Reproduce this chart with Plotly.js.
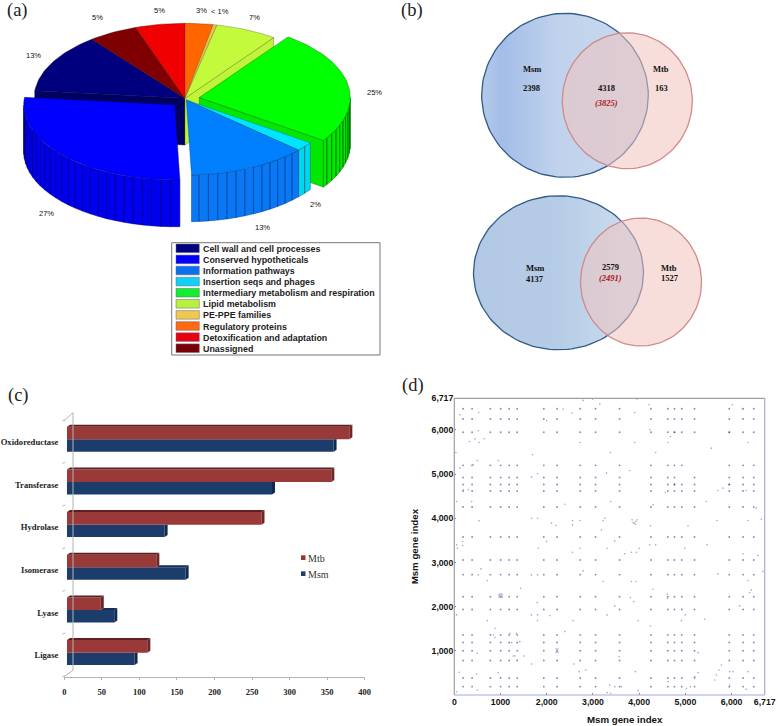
<!DOCTYPE html>
<html><head><meta charset="utf-8">
<script src="https://cdn.plot.ly/plotly-3.0.1.min.js"></script>
<style>html,body{margin:0;padding:0;background:#fff}#c{width:778px;height:726px}</style>
</head><body><div id="c"></div>
<script>
// ---------- data ----------
const pieNames = ["Regulatory proteins","PE-PPE families","Lipid metabolism","Intermediary metabolism and respiration","Insertion seqs and phages","Information pathways","Conserved hypotheticals","Cell wall and cell processes","Unassigned","Detoxification and adaptation"];
const pieShares = [3,0.4,6.6,24.7,2,12.8,27.2,12.8,5.3,5.3];
const pieLabels = ["3%","< 1%","7%","25%","2%","13%","27%","13%","5%","5%"];
const legendOrder = ["Cell wall and cell processes","Conserved hypotheticals","Information pathways","Insertion seqs and phages","Intermediary metabolism and respiration","Lipid metabolism","PE-PPE families","Regulatory proteins","Detoxification and adaptation","Unassigned"];

const vennTop = {msm:"2398", both:"4318", bothParen:"(3825)", mtb:"163"};
const vennBottom = {msm:"4137", both:"2579", bothParen:"(2491)", mtb:"1527"};

const enzymeClasses = ["Oxidoreductase","Transferase","Hydrolase","Isomerase","Lyase","Ligase"];
const mtbCounts = [376,352,259,119,45,107];
const msmCounts = [355,273,130,158,63,90];
const barTicks = [0,50,100,150,200,250,300,350,400];

const hubGenes = [189,385,780,1003,1187,1361,1937,2225,2725,3057,3577,4255,4620,4764,4923,5199,5950,6250,6480];
const strongGenes = [4764,5950];
const absentCells = ["5199,5199","4923,4923"];
const looseX = [2788,2990,3149,3955,4215,3905,6016,6232,2550,2356,122,526,1996,4229,4676,4626,5562,2716,3905,6355,324,447,533,648,519,1693,3379,4359,36,497,951,411,122,3797,3293,1672,1801,5706,5814,6319,4568,195,303,50,375,2392,3386,4301,5454,6535,1672,1801,2104,2198,2558,2558,2716,533,3221,3185,3257,3847,3890,3926,3955,3869,3919,4244,5058,5685,6355,6643,50,180,180,1996,3473,4229,4359,5469,65,1816,2716,3307,4986,6571,2558,3689,3833,3941,3999,576,2788,6247,6679,519,713,3221,3833,3927,6355,1672,1801,5706,6427,6391,1434,4301,973,1023,1009,1009,3811,4611,4611,3883,1794,3473,6175,50,1672,1801,1801,2068,2572,713,3307,3977,4914,5000,5418,4244,2392,879,879,843,1203,1347,1419,1239,1275,1311,1506,5274,497,3566,1672,2587,5778,5728,5670,5634,5958,6031,6355,2846,2702,108,483,951,3920,5274,5202,4626,5108,5022,6319,5958,3365,3473,3617,3307,3386,3977,497,50,2205,2245,2205,2245];
const looseY = [6669,6699,6586,6699,6571,6397,6571,6473,6382,6473,6344,6397,6216,6005,5853,5717,5589,5717,5717,5717,5740,5793,5717,5800,5982,5438,5491,5491,5491,5310,5310,5211,5136,5083,5023,4932,5008,4630,4683,4630,4585,4645,4645,4381,4381,4320,4381,4305,4381,4230,4003,4003,3890,3837,3950,3852,3950,3943,3950,3739,4003,3965,3890,3928,3965,3905,3867,3829,3829,3950,3950,3980,3399,3474,3384,3474,3489,3399,3399,3399,3323,3323,3323,3323,3323,3157,3233,3195,3233,3233,3323,2855,2810,3195,2795,2719,2591,2568,2568,2568,2591,2719,2719,2742,2379,2319,2417,2394,2251,2251,2288,2205,2205,2190,2288,2115,2092,2017,2017,1813,1813,1813,1684,1798,1684,1684,1813,1684,1684,1813,1714,1563,1435,1510,1299,1360,1397,1397,1208,1186,884,884,884,959,944,869,702,702,680,566,453,340,529,529,529,566,529,514,476,506,529,506,415,302,189,151,128,227,227,189,189,53,38,98,113,75,1040,970,970,1040];
const looseX2 = [973,1035,973,1035];
const looseY2 = [2280,2215,2215,2280];
const dotTicksX = [0,1000,2000,3000,4000,5000,6000,6717];
const dotTickTextX = ["0","1000","2,000","3,000","4,000","5,000","6,000","6,717"];
const dotTicksY = [1000,2000,3000,4000,5000,6000,6717];
const dotTickTextY = ["1,000","2,000","3,000","4,000","5,000","6,000","6,717"];

// ---------- styles ----------
const W=778,H=726;
const SERIF='"Liberation Serif","Times New Roman",serif', SANS='"Liberation Sans",Arial,sans-serif';
const topCol=["#ff6600","#e8c44a","#c4fa3c","#00ff00","#00e5ff","#007fff","#0000ff","#00007f","#7f0000","#f00000"];
const sideCol=["#e05a00","#d0b040","#c0f438","#00e800","#00d8f0","#0a78f5","#0000ee","#000060","#600000","#d00000"];
const lineCol=["#803000","#806020","#606a20","#006000","#006070","#004090","#000080","#000040","#400000","#700000"];
const explodeX=[0,0,0,14.3,1.3,1.3,-10.3,0,0,0];
const explodeY=[0,0,0,-0.7,1.7,1.7,6.7,0,0,0];
const legendSwatch={"Cell wall and cell processes":"#00007f","Conserved hypotheticals":"#0000ff","Information pathways":"#0a70f0","Insertion seqs and phages":"#10d0f8","Intermediary metabolism and respiration":"#10f030","Lipid metabolism":"#b8f040","PE-PPE families":"#eec850","Regulatory proteins":"#ff6a10","Detoxification and adaptation":"#e80010","Unassigned":"#7a0008"};

const traces=[], shapes=[], annos=[];
function txt(x,y,text,size,family,o){ annos.push(Object.assign({xref:'x',yref:'y',x,y,text,showarrow:false,xanchor:'center',yanchor:'middle',borderpad:0,
  font:{size,family,color:(o&&o.color)||'#111'}},o&&o.anchor?{xanchor:o.anchor}:{})); }
function poly(xs,ys,fill,line,lw,axes,extra){ traces.push(Object.assign({type:'scatter',mode:lw?'lines':'none',x:xs,y:ys,fill:'toself',fillcolor:fill,
  line:{color:line||fill,width:lw||0},hoverinfo:'skip',showlegend:false,xaxis:axes?axes[0]:'x',yaxis:axes?axes[1]:'y'},extra||{})); }

// ---------- (a) pie, drawn from the shares ----------
const cx=185,cy=98.3,rx=151,ry=75,ph=46.7,rad=Math.PI/180;
const total=pieShares.reduce((a,b)=>a+b,0);
const starts=[];let acc=0;pieShares.forEach(s=>{starts.push(acc);acc+=s/total*360;});
const ends=starts.map((s,i)=>s+pieShares[i]/total*360);
const px=(i,t)=>cx+explodeX[i]+rx*Math.sin(t*rad), py=(i,t)=>cy+explodeY[i]-ry*Math.cos(t*rad);
function radial(i,t){const ax=cx+explodeX[i],ay=cy+explodeY[i];
  poly([ax,px(i,t),px(i,t),ax,ax],[ay,py(i,t),py(i,t)+ph,ay+ph,ay],sideCol[i],lineCol[i],0.4);}
function sideFacets(i){const a=Math.max(starts[i],90),b=Math.min(ends[i],270);if(b<=a)return;
  const xs=[],ys=[];for(let t=a;t<b-0.01;t+=3.6){const e=Math.min(t+3.6,b);
    xs.push(px(i,t),px(i,e),px(i,e),px(i,t),px(i,t),null);ys.push(py(i,t),py(i,e),py(i,e)+ph,py(i,t)+ph,py(i,t),null);}
  poly(xs,ys,sideCol[i],lineCol[i],0.5);}
function topFace(i){const xs=[cx+explodeX[i]],ys=[cy+explodeY[i]];
  for(let t=starts[i];t<ends[i];t+=1.5){xs.push(px(i,t));ys.push(py(i,t));}
  xs.push(px(i,ends[i]),xs[0]);ys.push(py(i,ends[i]),ys[0]);poly(xs,ys,topCol[i],lineCol[i],0.4);}
radial(7,ends[6]);
[7,8,9,0,1].forEach(topFace);
radial(2,ends[2]);topFace(2);
sideFacets(3);radial(3,ends[3]);topFace(3);
sideFacets(4);topFace(4);sideFacets(5);topFace(5);sideFacets(6);topFace(6);

const pieLabelX=[201,220,254,374,315,262,46,33,97,159], pieLabelY=[10,11,17.5,92,204,227,213,55,17,10];
pieLabels.forEach((l,i)=>txt(pieLabelX[i],pieLabelY[i],l,7.5,SANS,{color:'#111'}));

// legend of (a)
shapes.push({type:'rect',xref:'x',yref:'y',x0:171.7,x1:380,y0:242.7,y1:355,line:{color:'#777',width:1},fillcolor:'#fff',layer:'below'});
legendOrder.forEach((n,i)=>{const y=248.3+11.1*i;
  shapes.push({type:'rect',xref:'x',yref:'y',x0:176,x1:199.3,y0:y-4.3,y1:y+4.3,line:{color:'#667',width:0.5},fillcolor:legendSwatch[n]});
  txt(201.7,y+0.5,'<b>'+n+'</b>',8.9,SANS,{anchor:'left',color:'#222'});});

// ---------- (b) venn ----------
function circle(c0,c1,r0,r1){const xs=[],ys=[];for(let t=0;t<=360;t+=3){xs.push(c0+r0*Math.cos(t*rad));ys.push(c1+r1*Math.sin(t*rad));}return [xs,ys];}
function venn(blue,pink,scale){
  let p=circle(...blue);
  poly(p[0],p[1],'#c8d6ec','#2f5a8a',1.3,null,{fillgradient:{type:'horizontal',colorscale:scale}});
  p=circle(...pink);
  poly(p[0],p[1],'rgba(240,195,190,0.55)','#d08a8a',1.3);
}
venn([565,95.3,83.3,82],[627.3,100.8,65,68],[[0,'#b6cbea'],[0.12,'#a3bde8'],[0.45,'#c0d2ec'],[1,'#cbd9ee']]);
venn([558.5,272.8,85,77],[641,282,60.5,64],[[0,'#b2c8e4'],[0.5,'#b6cce6'],[0.9,'#cadcee'],[1,'#cadcee']]);
const RED='#a81818', VF=8.5;
function B(s){return '<b>'+s+'</b>';}
txt(532,68.7,B('Msm'),VF,SERIF);txt(531.5,88,B(vennTop.msm),VF,SERIF);
txt(606.7,87.7,B(vennTop.both),VF,SERIF);txt(606.7,102.7,'<b><i>'+vennTop.bothParen+'</i></b>',VF,SERIF,{color:RED});
txt(661,68.7,B('Mtb'),VF,SERIF);txt(661.7,88.3,B(vennTop.mtb),VF,SERIF);
txt(534.7,268.3,B('Msm'),VF,SERIF);txt(534.7,278.7,B(vennBottom.msm),VF,SERIF);
txt(610.3,267.3,B(vennBottom.both),VF,SERIF);txt(610.3,278.3,'<b><i>'+vennBottom.bothParen+'</i></b>',VF,SERIF,{color:RED});
txt(669.3,267.7,B('Mtb'),VF,SERIF);txt(670.3,278.3,B(vennBottom.mtb),VF,SERIF);

// ---------- (c) bars ----------
const n=enzymeClasses.length, barY=enzymeClasses.map((c,i)=>n-1-i);
const BASE=3.55, W1=0.295, OFF=0.063, DX=4, DY=0.047;
const MTB='#9a3a38', MSM='#1c3d6b';
traces.push({type:'bar',orientation:'h',name:'Msm',x:msmCounts,y:barY,base:BASE,offset:OFF-0.29,width:0.29,marker:{color:MSM,line:{width:0}},xaxis:'x2',yaxis:'y2',hoverinfo:'skip',showlegend:false});
traces.push({type:'bar',orientation:'h',name:'Mtb',x:mtbCounts,y:barY,base:BASE,offset:OFF,width:W1,marker:{color:MTB,line:{width:0}},xaxis:'x2',yaxis:'y2',hoverinfo:'skip',showlegend:false});
const AX2=['x2','y2'];
enzymeClasses.forEach((c,i)=>{const y=barY[i],mb=msmCounts[i]+BASE,mt=mtbCounts[i]+BASE;
  const lo=y+OFF-0.29, mid=y+OFF, hi=y+OFF+W1;
  if(mb>mt){poly([mt,mb,mb+DX,mt+DX,mt],[mid,mid,mid+DY,mid+DY,mid],'#14305a',null,0,AX2);
    poly([mb,mb+DX,mb+DX,mb,mb],[lo,lo+DY,mid+DY,mid,lo],'#10294d',null,0,AX2);}
  else poly([mb,mb+DX,mb+DX,mb,mb],[lo,lo+DY,mid,mid,lo],'#10294d',null,0,AX2);
  poly([BASE,mt,mt+DX,BASE+DX,BASE],[hi,hi,hi+DY,hi+DY,hi],'#5e1f1f',null,0,AX2);
  poly([mt,mt+DX,mt+DX,mt,mt],[mid,mid+DY,hi+DY,hi,mid],'#6e2525',null,0,AX2);
});
const gray='#b4b4b4';
[[73,412.7,73,670],[64.3,676.7,73,670],[64.3,420.7,73,412.7]].forEach(l=>shapes.push({type:'line',xref:'x',yref:'y',x0:l[0],y0:l[1],x1:l[2],y1:l[3],line:{color:gray,width:1}}));
for(let i=0;i<=n;i++){const y=420.7+i*42.67;shapes.push({type:'line',xref:'x',yref:'y',x0:62.5,y0:y,x1:65,y1:y-1,line:{color:gray,width:1}});}
shapes.push({type:'rect',xref:'x',yref:'y',x0:301,x1:305.5,y0:555.3,y1:560,fillcolor:'#953735',line:{width:0}});
shapes.push({type:'rect',xref:'x',yref:'y',x0:301,x1:305.5,y0:571.3,y1:576,fillcolor:'#1f3f70',line:{width:0}});
txt(307,558,'Mtb',10,SERIF,{anchor:'left',color:'#333'});txt(307,574,'Msm',10,SERIF,{anchor:'left',color:'#333'});

// ---------- (d) dot matrix ----------
const fx=[],fy=[],sx=[],sy=[];
hubGenes.forEach(a=>hubGenes.forEach(b=>{
  if(absentCells.includes(a+','+b))return;
  if(strongGenes.includes(a)&&strongGenes.includes(b)||(strongGenes.includes(a)&&b===4764)){sx.push(a);sy.push(b);} else {fx.push(a);fy.push(b);}
}));
const AX3={xaxis:'x3',yaxis:'y3',type:'scatter',mode:'markers',hoverinfo:'skip',showlegend:false};
traces.push(Object.assign({},AX3,{x:fx,y:fy,marker:{size:1.9,color:'#8a8db8',line:{width:0}}}));
traces.push(Object.assign({},AX3,{x:sx,y:sy,marker:{size:2,color:'#50547f',line:{width:0}}}));
traces.push(Object.assign({},AX3,{x:looseX.concat(looseX2),y:looseY.concat(looseY2),marker:{size:1.6,color:'#a0a4d0',line:{width:0}}}));
const D=[454.3,764.7,398.3,695];
[[D[0],D[2],D[0],D[3],'#a0a0a0'],[D[0],D[2],D[1],D[2],'#a0a0a0'],[D[1],D[2],D[1],D[3],'#a8a8d8'],[D[0],D[3],D[1],D[3],'#a8a8e0']].forEach(l=>
  shapes.push({type:'line',xref:'x',yref:'y',x0:l[0],y0:l[1],x1:l[2],y1:l[3],line:{color:l[4],width:1.2}}));
txt(625,719,'<b>Msm gene index</b>',9.7,SANS);

// panel letters
txt(17.5,10.5,'(a)',18.5,SERIF,{color:'#222'});txt(411.5,10.5,'(b)',18.5,SERIF,{color:'#222'});
txt(18.5,395,'(c)',18.5,SERIF,{color:'#222'});txt(412.5,385,'(d)',18.5,SERIF,{color:'#222'});

const hidden={visible:false,fixedrange:true};
const dom=(a,b)=>[a/W,b/W], domY=(top,bot)=>[(H-bot)/H,(H-top)/H];
const layout={width:W,height:H,margin:{l:0,r:0,t:0,b:0},paper_bgcolor:'#fff',plot_bgcolor:'rgba(0,0,0,0)',showlegend:false,barmode:'overlay',
  xaxis:Object.assign({domain:[0,1],range:[0,W]},hidden),
  yaxis:Object.assign({domain:[0,1],range:[H,0]},hidden),
  xaxis2:{domain:dom(64.3,364.7),range:[0,400],anchor:'y2',tickvals:barTicks,showgrid:false,zeroline:false,showline:true,linecolor:gray,linewidth:1,ticks:'outside',ticklen:2,tickcolor:gray,ticklabelstandoff:5,
    tickfont:{family:SERIF,size:8.5,color:'#222',weight:'bold'}},
  yaxis2:{domain:domY(420.7,676.7),range:[-0.5,5.5],anchor:'x2',tickvals:barY,ticktext:enzymeClasses,showgrid:false,zeroline:false,showline:false,ticks:'',ticklabelstandoff:5,
    tickfont:{family:SERIF,size:8.6,color:'#222',weight:'bold'}},
  xaxis3:{domain:dom(D[0],D[1]),range:[0,6717],anchor:'y3',tickvals:dotTicksX,ticktext:dotTickTextX,showgrid:false,zeroline:false,showline:false,ticks:'inside',ticklen:2,tickcolor:'#888',
    tickfont:{family:SANS,size:8.7,color:'#111',weight:'bold'}},
  yaxis3:{domain:domY(D[2],D[3]),range:[0,6717],anchor:'x3',tickvals:dotTicksY,ticktext:dotTickTextY,showgrid:false,zeroline:false,showline:false,ticks:'inside',ticklen:2,tickcolor:'#888',
    tickfont:{family:SANS,size:8.7,color:'#111',weight:'bold'},
    title:{text:'<b>Msm gene index</b>',standoff:11,font:{family:SANS,size:9.7,color:'#111'}}},
  shapes,annotations:annos};
Plotly.newPlot('c',traces,layout,{staticPlot:true,displayModeBar:false});
</script></body></html>
